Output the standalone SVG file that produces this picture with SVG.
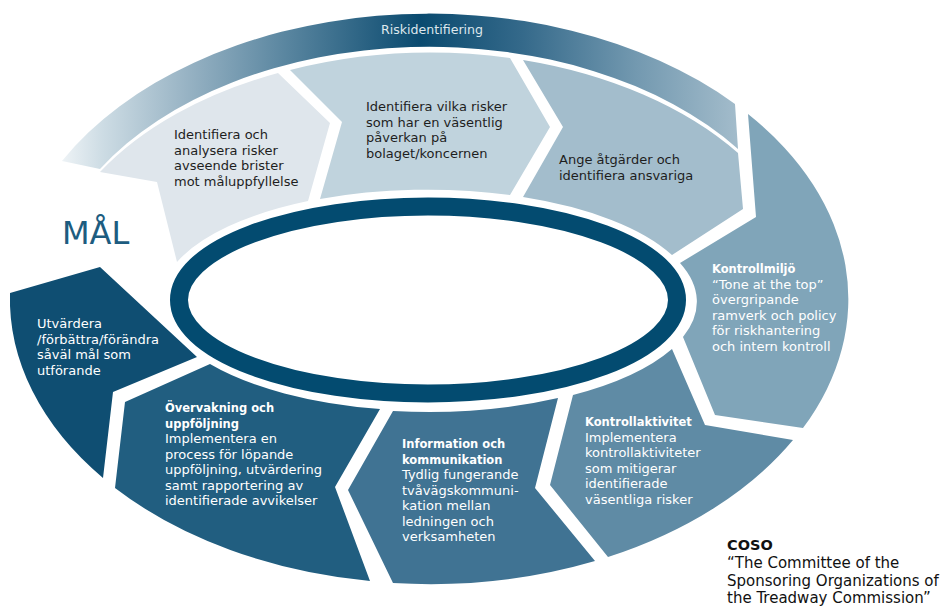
<svg xmlns="http://www.w3.org/2000/svg" width="941" height="606" viewBox="0 0 941 606">
  <defs>
    <linearGradient id="bandGrad" gradientUnits="userSpaceOnUse" x1="62" y1="0" x2="738" y2="0">
      <stop offset="0" stop-color="#eef3f6"/>
      <stop offset="0.06" stop-color="#cddce4"/>
      <stop offset="0.2" stop-color="#91aec0"/>
      <stop offset="0.33" stop-color="#5a86a0"/>
      <stop offset="0.53" stop-color="#0a4a6f"/>
      <stop offset="0.68" stop-color="#34698a"/>
      <stop offset="0.85" stop-color="#7399b0"/>
      <stop offset="1" stop-color="#a3bccb"/>
    </linearGradient>
    <style>
      text { font-family: "DejaVu Sans", sans-serif; font-size: 13px; }
      .dark { fill: #1e1e1e; }
      .light { fill: #ffffff; }
      .head { font-weight: bold; font-size: 11.5px; }
      .band-label { fill: #dde7ed; font-size: 12.6px; }
      .goal { fill: #1d5c80; font-size: 32px; }
      .note { fill: #111111; font-size: 15px; }
      .note-head { font-weight: bold; font-size: 14.5px; }
    </style>
  </defs>

  <!-- outer arc: risk identification -->
  <g id="riskidentifiering">
    <path d="M62,161 A419,285 0 0 1 735,104 L738,149 A384,252 0 0 0 100,169 Z" fill="url(#bandGrad)"/>
    <text class="band-label" x="432" y="34" text-anchor="middle">Riskidentifiering</text>
  </g>

  <!-- process steps, clockwise from the goal -->
  <g id="analysera">
    <path d="M100,172 A384,246 0 0 1 278,73 L330,123 L308,201 A268,111 0 0 0 177,262 L157,182 Z" fill="#dfe6ec"/>
    <text class="dark" x="174" y="139">Identifiera och</text>
    <text class="dark" x="174" y="154.6">analysera risker</text>
    <text class="dark" x="174" y="170.2">avseende brister</text>
    <text class="dark" x="174" y="185.8">mot måluppfyllelse</text>
  </g>

  <g id="identifiera">
    <path d="M290,70 A384,246 0 0 1 510,58 L550,127 L510,195 A268,111 0 0 0 320,199 L342,122 Z" fill="#c0d3dd"/>
    <text class="dark" x="366" y="111">Identifiera vilka risker</text>
    <text class="dark" x="366" y="126.6">som har en väsentlig</text>
    <text class="dark" x="366" y="142.2">påverkan på</text>
    <text class="dark" x="366" y="157.8">bolaget/koncernen</text>
  </g>

  <g id="atgarder">
    <path d="M523,60 A384,246 0 0 1 738,153 L743,209 L672,255 A268,111 0 0 0 523,197 L563,127 Z" fill="#a3bdcc"/>
    <text class="dark" x="559" y="164">Ange åtgärder och</text>
    <text class="dark" x="559" y="180">identifiera ansvariga</text>
  </g>

  <g id="kontrollmiljo">
    <path d="M748,114 A419,285 0 0 1 803,428 L715,415 L683,337 A268,111 0 0 0 680,263 L756,217 Z" fill="#80a5b9"/>
    <text class="light head" x="712" y="273">Kontrollmiljö</text>
    <text class="light" x="712" y="288.6">“Tone at the top”</text>
    <text class="light" x="712" y="304.2">övergripande</text>
    <text class="light" x="712" y="319.8">ramverk och policy</text>
    <text class="light" x="712" y="335.4">för riskhantering</text>
    <text class="light" x="712" y="351">och intern kontroll</text>
  </g>

  <g id="kontrollaktivitet">
    <path d="M672,349 L705,425 L793,440 A419,285 0 0 1 608,557 L550,485 L573,395 A268,111 0 0 0 672,349 Z" fill="#5f8ba5"/>
    <text class="light head" x="585" y="426">Kontrollaktivitet</text>
    <text class="light" x="585" y="441.5">Implementera</text>
    <text class="light" x="585" y="457">kontrollaktiviteter</text>
    <text class="light" x="585" y="472.5">som mitigerar</text>
    <text class="light" x="585" y="488">identifierade</text>
    <text class="light" x="585" y="503.5">väsentliga risker</text>
  </g>

  <g id="information">
    <path d="M393,411 L348,490 L393,583 A419,285 0 0 0 595,561 L535,488 L558,398 A268,111 0 0 1 393,411 Z" fill="#407393"/>
    <text class="light head" x="402" y="448">Information och</text>
    <text class="light head" x="402" y="463.5">kommunikation</text>
    <text class="light" x="402" y="479">Tydlig fungerande</text>
    <text class="light" x="402" y="494.5">tvåvägskommuni-</text>
    <text class="light" x="402" y="510">kation mellan</text>
    <text class="light" x="402" y="525.5">ledningen och</text>
    <text class="light" x="402" y="541">verksamheten</text>
  </g>

  <g id="overvakning">
    <path d="M210,364 L125,402 L115,488 A419,285 0 0 0 370,581 L335,487 L380,409 A268,111 0 0 1 210,364 Z" fill="#215e80"/>
    <text class="light head" x="165" y="412">Övervakning och</text>
    <text class="light head" x="165" y="427.5">uppföljning</text>
    <text class="light" x="165" y="443">Implementera en</text>
    <text class="light" x="165" y="458.5">process för löpande</text>
    <text class="light" x="165" y="474">uppföljning, utvärdering</text>
    <text class="light" x="165" y="489.5">samt rapportering av</text>
    <text class="light" x="165" y="505">identifierade avvikelser</text>
  </g>

  <g id="utvardera">
    <path d="M10,293 L100,267 L197,357 L113,392 L103,478 A419,285 0 0 1 10,293 Z" fill="#0f4e72"/>
    <text class="light" x="37" y="328">Utvärdera</text>
    <text class="light" x="37" y="343.6">/förbättra/förändra</text>
    <text class="light" x="37" y="359.2">såväl mål som</text>
    <text class="light" x="37" y="374.8">utförande</text>
  </g>

  <!-- central ring -->
  <g id="ring">
    <ellipse cx="428" cy="300" rx="249" ry="93.5" fill="none" stroke="#034b70" stroke-width="18"/>
  </g>

  <g id="mal">
    <text class="goal" x="62" y="244">MÅL</text>
  </g>

  <g id="coso">
    <text class="note note-head" x="727" y="550">COSO</text>
    <text class="note" x="727" y="568">“The Committee of the</text>
    <text class="note" x="727" y="585.5">Sponsoring Organizations of</text>
    <text class="note" x="727" y="603">the Treadway Commission”</text>
  </g>
</svg>
